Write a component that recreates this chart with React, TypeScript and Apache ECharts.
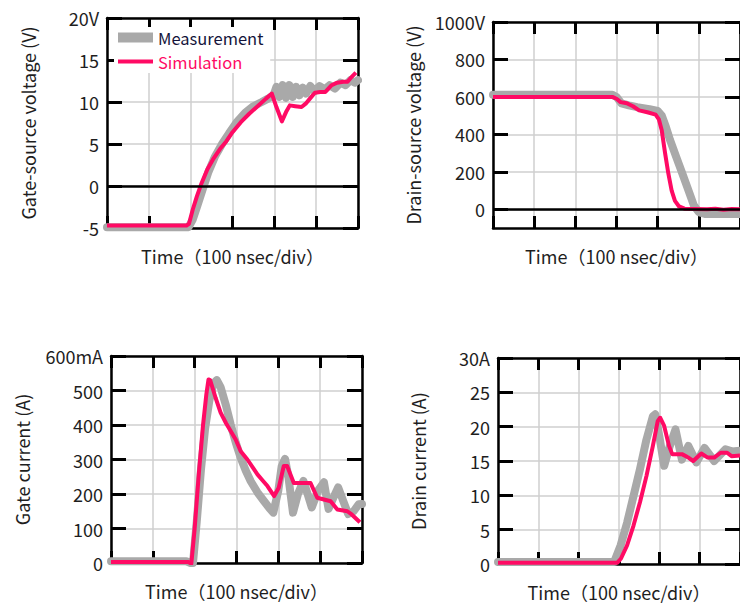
import React, { useEffect, useRef } from "react";
import * as echarts from "echarts";

const FONT = '"Noto Sans CJK JP", "Noto Sans", sans-serif';
const RED = "#ff0a64";
const GRAY = "#a9a9a9";
const TEXT = "#1e1e1e";

const timeTicks = [0, 100, 200, 300, 400, 500, 600]; // ns, 100 ns/div
const xTitle = "Time（100 nsec/div）";

// Gate-source voltage (V)
const vgsMeasT = [0, 195, 205, 215, 228, 242, 258, 275, 292, 310, 330, 350, 370, 385, 398, 405, 412, 420, 428, 436, 444, 452, 460, 468, 476, 486, 496, 508, 520, 532, 545, 558, 570, 582, 592, 600];
const vgsMeasV = [-4.9, -4.9, -4.0, -2.5, -0.5, 1.6, 3.5, 5.0, 6.3, 7.6, 8.7, 9.5, 10.0, 10.4, 10.8, 11.8, 10.6, 12.0, 10.5, 12.0, 10.6, 11.8, 10.8, 11.7, 11.0, 11.9, 11.3, 11.9, 11.5, 12.0, 11.6, 12.3, 12.0, 12.6, 12.3, 12.6];
const vgsSimT = [0, 190, 196, 205, 215, 225, 240, 255, 270, 285, 300, 320, 340, 360, 380, 394, 405, 418, 428, 437, 450, 465, 475, 485, 497, 510, 522, 537, 550, 565, 575, 585, 595];
const vgsSimV = [-4.7, -4.7, -4.5, -2.8, -1.2, 0.2, 2.0, 3.3, 4.4, 5.3, 6.4, 7.6, 8.6, 9.5, 10.4, 11.0, 9.4, 7.7, 8.8, 9.6, 9.5, 9.4, 9.8, 10.4, 11.1, 11.2, 11.2, 12.0, 12.3, 12.4, 12.4, 13.0, 13.5];

// Drain-source voltage (V)
const vdsMeasT = [0, 290, 300, 312, 330, 350, 380, 400, 410, 420, 430, 445, 460, 475, 488, 500, 515, 600];
const vdsMeasV = [612, 612, 600, 565, 555, 545, 535, 525, 500, 440, 370, 280, 190, 100, 20, -15, -25, -25];
const vdsSimT = [0, 290, 300, 310, 325, 340, 355, 375, 395, 403, 410, 418, 426, 434, 442, 452, 465, 490, 520, 540, 560, 580, 600];
const vdsSimV = [600, 600, 590, 572, 566, 550, 528, 518, 505, 480, 420, 300, 190, 100, 45, 15, 3, 2, 0, 3, -2, 1, 0];

// Gate current (mA)
const igMeasT = [0, 180, 190, 196, 205, 215, 225, 235, 245, 253, 262, 274, 286, 298, 310, 322, 334, 350, 366, 378, 388, 400, 408, 416, 424, 435, 447, 460, 470, 480, 495, 509, 520, 532, 543, 555, 567, 580, 592, 600];
const igMeasV = [5, 5, 0, 0, 120, 270, 390, 470, 520, 530, 510, 460, 402, 350, 305, 268, 237, 205, 179, 160, 146, 210, 280, 302, 250, 146, 200, 238, 200, 161, 210, 234, 157, 190, 219, 180, 142, 150, 170, 171];
const igSimT = [0, 175, 185, 192, 200, 210, 220, 228, 233, 237, 250, 262, 275, 285, 298, 310, 326, 340, 350, 362, 374, 390, 401, 413, 421, 437, 461, 477, 493, 509, 525, 541, 565, 576, 595];
const igSimV = [3, 3, 3, -2, 100, 260, 400, 490, 532, 530, 479, 436, 405, 385, 358, 324, 300, 275, 257, 240, 223, 194, 218, 281, 281, 232, 232, 232, 189, 184, 179, 155, 150, 140, 118];

// Drain current (A)
const idMeasT = [0, 288, 304, 320, 336, 352, 368, 384, 390, 400, 412, 425, 440, 456, 472, 492, 512, 536, 564, 580, 600];
const idMeasV = [0.3, 0.3, 2.7, 6.0, 9.9, 13.8, 18.1, 21.5, 21.8, 18.6, 14.3, 17.0, 19.6, 15.2, 17.2, 14.8, 16.9, 15.0, 16.7, 16.4, 16.5];
const idSimT = [0, 296, 305, 320, 336, 352, 368, 384, 396, 402, 412, 424, 432, 456, 472, 484, 504, 520, 536, 552, 568, 579, 600];
const idSimV = [0.2, 0.2, 0.8, 2.7, 5.6, 9.0, 12.8, 17.2, 20.8, 21.3, 20.1, 17.2, 16.0, 16.0, 15.5, 15.0, 16.1, 15.5, 15.5, 16.2, 16.2, 15.7, 15.8];

// Y axis ticks
const vgsTicks = [-5, 0, 5, 10, 15, 20];
const vdsTicks = [0, 200, 400, 600, 800, 1000];
const igTicks = [0, 100, 200, 300, 400, 500, 600];
const idTicks = [0, 5, 10, 15, 20, 25, 30];

const zip = (t: number[], v: number[]) => t.map((x, i) => [x, v[i]]);

type Panel = {
  grid: { left: number; top: number; width: number; height: number };
  yName: string;
  yNameGap: number;
  yMin: number;
  ticks: number[];
  unit: string;
  meas: number[][];
  sim: number[][];
  zeroLine: boolean;
};

const panels: Panel[] = [
  { grid: { left: 107, top: 18, width: 251, height: 210 }, yName: "Gate-source voltage (V)", yNameGap: 70, yMin: -5, ticks: vgsTicks, unit: "V", meas: zip(vgsMeasT, vgsMeasV), sim: zip(vgsSimT, vgsSimV), zeroLine: true },
  { grid: { left: 493, top: 22, width: 250, height: 206 }, yName: "Drain-source voltage (V)", yNameGap: 71, yMin: -100, ticks: vdsTicks, unit: "V", meas: zip(vdsMeasT, vdsMeasV), sim: zip(vdsSimT, vdsSimV), zeroLine: true },
  { grid: { left: 111, top: 356, width: 251, height: 207 }, yName: "Gate current (A)", yNameGap: 80, yMin: 0, ticks: igTicks, unit: "mA", meas: zip(igMeasT, igMeasV), sim: zip(igSimT, igSimV), zeroLine: false },
  { grid: { left: 498, top: 358, width: 250, height: 206 }, yName: "Drain current (A)", yNameGap: 71, yMin: 0, ticks: idTicks, unit: "A", meas: zip(idMeasT, idMeasV), sim: zip(idSimT, idSimV), zeroLine: false },
];

const frameLine = { show: true, onZero: false, lineStyle: { color: "#000", width: 2.5 } };
const gridLine = { color: "#cfcfcf", width: 1.5 };

export default function App() {
  const ref = useRef<HTMLDivElement>(null);
  useEffect(() => {
    if (!ref.current) return;
    const chart = echarts.init(ref.current, undefined, { renderer: "svg" });
    const grids: any[] = [];
    const xAxes: any[] = [];
    const yAxes: any[] = [];
    const series: any[] = [];
    panels.forEach((p, i) => {
      const yMax = p.ticks[p.ticks.length - 1];
      grids.push({ ...p.grid, show: false });
      const xBase = {
        type: "value",
        gridIndex: i,
        min: timeTicks[0],
        max: timeTicks[timeTicks.length - 1],
        interval: timeTicks[1] - timeTicks[0],
        axisLine: frameLine,
        axisTick: { show: true, inside: true, length: 12, lineStyle: { color: "#000", width: 3 } },
        axisLabel: { show: false },
      };
      xAxes.push({
        ...xBase,
        position: "bottom",
        splitLine: { show: true, lineStyle: gridLine },
        name: xTitle,
        nameLocation: "middle",
        nameGap: 19,
        nameTextStyle: { fontFamily: FONT, fontSize: 18, color: TEXT },
      });
      xAxes.push({ ...xBase, position: "top", splitLine: { show: false } });
      const yBase = {
        type: "value",
        gridIndex: i,
        min: p.yMin,
        max: yMax,
        axisLine: frameLine,
        axisTick: { show: true, inside: true, length: 15, lineStyle: { color: "#000", width: 3 }, customValues: p.ticks },
      };
      yAxes.push({
        ...yBase,
        position: "left",
        axisLabel: {
          show: true,
          customValues: p.ticks,
          margin: 8,
          fontFamily: FONT,
          fontSize: 18,
          color: TEXT,
          formatter: (v: number) => (v === yMax ? `${v}${p.unit}` : `${v}`),
        },
        splitLine: { show: true, lineStyle: gridLine },
        name: p.yName,
        nameLocation: "middle",
        nameRotate: 90,
        nameGap: p.yNameGap,
        nameTextStyle: { fontFamily: FONT, fontSize: 18, color: TEXT },
      });
      yAxes.push({ ...yBase, position: "right", axisLabel: { show: false }, splitLine: { show: false } });
      series.push({
        type: "line",
        name: "Measurement",
        xAxisIndex: 2 * i,
        yAxisIndex: 2 * i,
        data: p.meas,
        showSymbol: false,
        symbol: "none",
        clip: true,
        z: 2,
        itemStyle: { color: GRAY },
        lineStyle: { color: GRAY, width: 8, cap: "round", join: "round" },
        markLine: p.zeroLine
          ? { silent: true, symbol: "none", label: { show: false }, lineStyle: { color: "#000", width: 2.5, type: "solid" }, data: [{ yAxis: 0 }] }
          : undefined,
      });
      series.push({
        type: "line",
        name: "Simulation",
        xAxisIndex: 2 * i,
        yAxisIndex: 2 * i,
        data: p.sim,
        showSymbol: false,
        symbol: "none",
        clip: true,
        z: 3,
        itemStyle: { color: RED },
        lineStyle: { color: RED, width: 4, join: "round" },
      });
    });

    chart.setOption({
      animation: false,
      backgroundColor: "#fff",
      grid: grids,
      xAxis: xAxes,
      yAxis: yAxes,
      series,
      legend: [
        {
          data: [{ name: "Measurement", textStyle: { color: "#14143a" } }],
          left: 114,
          top: 27,
          icon: "rect",
          itemWidth: 35,
          itemHeight: 10,
          selectedMode: false,
          backgroundColor: "#fff",
          padding: [2, 4, 6, 4],
          textStyle: { fontFamily: FONT, fontSize: 16.5, lineHeight: 17 },
          z: 5,
        },
        {
          data: [{ name: "Simulation", textStyle: { color: RED } }],
          left: 114,
          top: 52,
          icon: "rect",
          itemWidth: 35,
          itemHeight: 4,
          selectedMode: false,
          backgroundColor: "#fff",
          padding: [1, 28, 3, 4],
          textStyle: { fontFamily: FONT, fontSize: 16.5, lineHeight: 17 },
          z: 5,
        },
      ],
    });
    return () => chart.dispose();
  }, []);
  return <div ref={ref} style={{ position: "fixed", left: 0, top: 0, width: 740, height: 608 }} />;
}
